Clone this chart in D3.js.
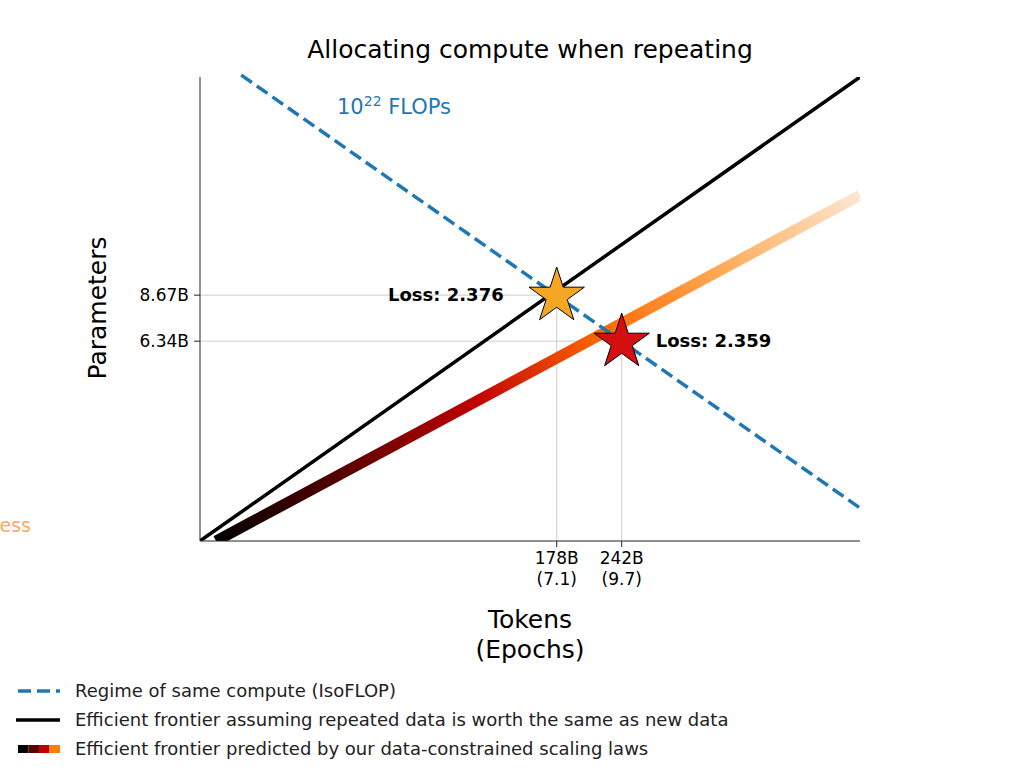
<!DOCTYPE html>
<html><head><meta charset="utf-8">
<script src="https://cdn.jsdelivr.net/npm/d3@7"></script>
<style>body{margin:0;background:#fff}text{font-family:"DejaVu Sans",sans-serif}</style>
</head><body><div id="root"></div>
<script>
// data (tokens and parameters in billions)
const xDomain = [33, 746];
const yDomain = [1.63, 38.2];
const isoflop = [[40.1, 38.7], [746, 2.04]];
const naiveFrontier = [[33, 1.63], [746, 38.2]];
const constrainedFrontier = [[35.6, 1.63], [746, 17.1]];
const xTicks = [178, 242];
const xTickLabels = [["178B", "(7.1)"], ["242B", "(9.7)"]];
const yTicks = [8.67, 6.34];
const yTickLabels = ["8.67B", "6.34B"];
const stars = [
  { x: 178, y: 8.67, color: "#f5a623", label: "Loss: 2.376", side: "left" },
  { x: 242, y: 6.34, color: "#d40f0f", label: "Loss: 2.359", side: "right" }
];
const gradStops = ["#000000", "#5a0000", "#c00000", "#ff6a00", "#ffb060", "#fde6d4"];
const legendItems = [
  "Regime of same compute (IsoFLOP)",
  "Efficient frontier assuming repeated data is worth the same as new data",
  "Efficient frontier predicted by our data-constrained scaling laws"
];

const W = 1026, H = 782;
const svg = d3.select("#root").append("svg").attr("width", W).attr("height", H);
const x = d3.scaleLog().domain(xDomain).range([200, 860]);
const y = d3.scaleLog().domain(yDomain).range([541, 77]);

const defs = svg.append("defs");
defs.append("clipPath").attr("id", "clip").append("rect")
  .attr("x", 200).attr("y", 77).attr("width", 660).attr("height", 464);
const g = defs.append("linearGradient").attr("id", "grad").attr("gradientUnits", "userSpaceOnUse")
  .attr("x1", x(constrainedFrontier[0][0])).attr("y1", y(constrainedFrontier[0][1]))
  .attr("x2", x(constrainedFrontier[1][0])).attr("y2", y(constrainedFrontier[1][1]));
gradStops.forEach((c, i) => g.append("stop").attr("offset", i / (gradStops.length - 1)).attr("stop-color", c));

svg.append("text").attr("x", 530).attr("y", 58).attr("text-anchor", "middle")
  .attr("font-size", 25).text("Allocating compute when repeating");

// guide lines
const guide = svg.append("g").attr("stroke", "#cccccc").attr("stroke-width", 1);
stars.forEach((s) => {
  guide.append("line").attr("x1", 200).attr("x2", x(s.x)).attr("y1", y(s.y)).attr("y2", y(s.y));
  guide.append("line").attr("x1", x(s.x)).attr("x2", x(s.x)).attr("y1", y(s.y)).attr("y2", 541);
});

const line = d3.line().x((d) => x(d[0])).y((d) => y(d[1]));
const plot = svg.append("g").attr("clip-path", "url(#clip)");
plot.append("path").attr("d", line(constrainedFrontier)).attr("stroke", "url(#grad)")
  .attr("stroke-width", 11).attr("fill", "none");
plot.append("path").attr("d", line(naiveFrontier)).attr("stroke", "#000")
  .attr("stroke-width", 3.5).attr("fill", "none");
svg.append("path").attr("d", line(isoflop)).attr("stroke", "#1f77b4")
  .attr("stroke-width", 3.5).attr("stroke-dasharray", "13,6").attr("fill", "none");

svg.append("text").attr("x", 337).attr("y", 114).attr("fill", "#1f77b4").attr("font-size", 21)
  .html('10<tspan dy="-8" font-size="14">22</tspan><tspan dy="8"> FLOPs</tspan>');

const star = d3.symbol().type(d3.symbolStar).size(950);
stars.forEach((s) => {
  svg.append("path").attr("d", star()).attr("transform", `translate(${x(s.x)},${y(s.y) + 1})`)
    .attr("fill", s.color).attr("stroke", "#000").attr("stroke-width", 1);
  svg.append("text").attr("x", x(s.x) + (s.side === "left" ? -53 : 34)).attr("y", y(s.y) + 6)
    .attr("text-anchor", s.side === "left" ? "end" : "start")
    .attr("font-size", 18).attr("font-weight", "bold").text(s.label);
});

// axes
svg.append("line").attr("x1", 200).attr("x2", 200).attr("y1", 77).attr("y2", 541).attr("stroke", "#222").attr("stroke-width", 1);
svg.append("line").attr("x1", 200).attr("x2", 860).attr("y1", 541).attr("y2", 541).attr("stroke", "#222").attr("stroke-width", 1);
yTicks.forEach((t, i) => {
  svg.append("line").attr("x1", 194).attr("x2", 200).attr("y1", y(t)).attr("y2", y(t)).attr("stroke", "#222");
  svg.append("text").attr("x", 189).attr("y", y(t) + 6).attr("text-anchor", "end").attr("font-size", 17).text(yTickLabels[i]);
});
xTicks.forEach((t, i) => {
  svg.append("line").attr("x1", x(t)).attr("x2", x(t)).attr("y1", 541).attr("y2", 547).attr("stroke", "#222");
  xTickLabels[i].forEach((l, j) =>
    svg.append("text").attr("x", x(t)).attr("y", 564 + j * 21).attr("text-anchor", "middle").attr("font-size", 17).text(l));
});
svg.append("text").attr("transform", "translate(106,308) rotate(-90)").attr("text-anchor", "middle")
  .attr("font-size", 25).text("Parameters");
svg.append("text").attr("x", 530).attr("y", 628).attr("text-anchor", "middle").attr("font-size", 25).text("Tokens");
svg.append("text").attr("x", 530).attr("y", 658).attr("text-anchor", "middle").attr("font-size", 25).text("(Epochs)");

svg.append("text").attr("x", 31).attr("y", 532).attr("text-anchor", "end").attr("fill", "#f8a868").attr("font-size", 19).text("Less");

// legend
const ly = [691, 720, 749];
svg.append("line").attr("x1", 18).attr("x2", 60).attr("y1", ly[0]).attr("y2", ly[0])
  .attr("stroke", "#1f77b4").attr("stroke-width", 3.5).attr("stroke-dasharray", "13,6");
svg.append("line").attr("x1", 16).attr("x2", 60).attr("y1", ly[1]).attr("y2", ly[1])
  .attr("stroke", "#000").attr("stroke-width", 3.5);
["#000000", "#5a0000", "#c00000", "#ff8000"].forEach((c, i) =>
  svg.append("rect").attr("x", 18 + i * 10.5).attr("y", ly[2] - 4).attr("width", 10.5).attr("height", 8).attr("fill", c));
legendItems.forEach((t, i) =>
  svg.append("text").attr("x", 75).attr("y", ly[i] + 6).attr("font-size", 18).attr("fill", "#222").text(t));
</script></body></html>
